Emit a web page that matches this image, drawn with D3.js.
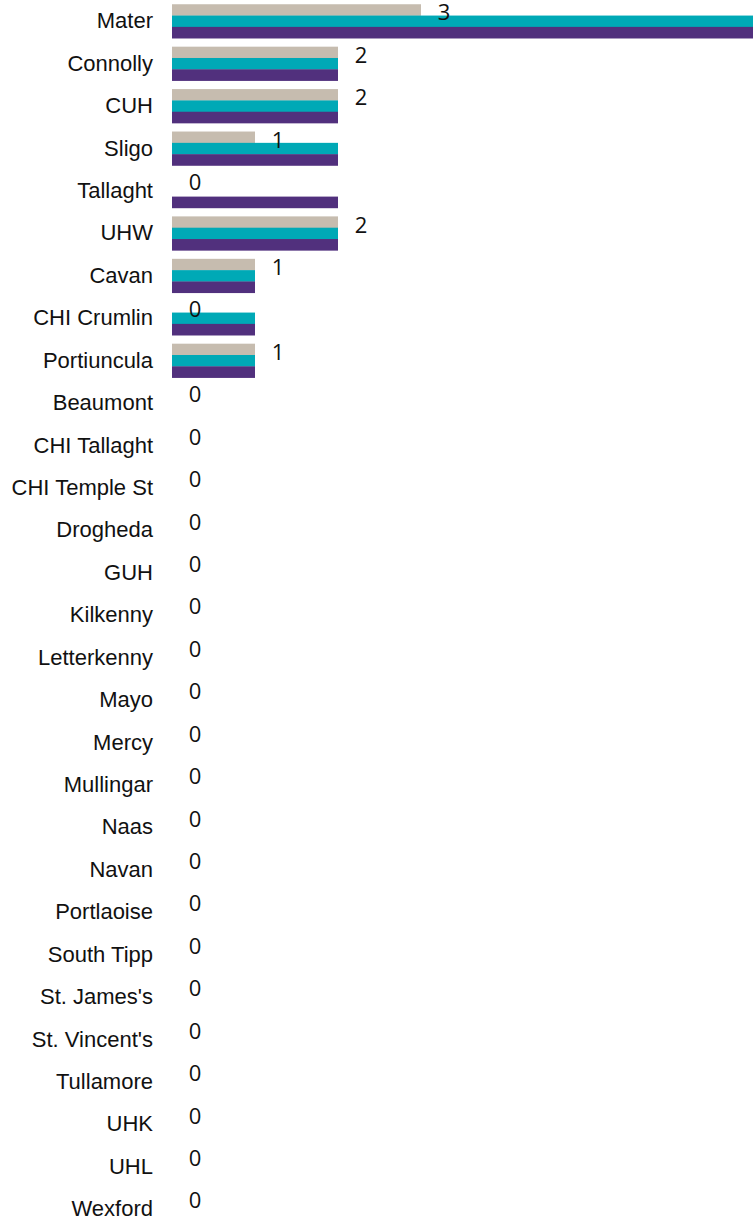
<!DOCTYPE html>
<html>
<head>
<meta charset="utf-8">
<script src="https://cdn.jsdelivr.net/npm/d3@7"></script>
<style>
	html, body { margin: 0; padding: 0; background: #FFF; }
	svg { display: block; }
</style>
</head>
<body>
<div id="chart"></div>
<script>

const hospitals = ["Mater", "Connolly", "CUH", "Sligo", "Tallaght", "UHW", "Cavan", "CHI Crumlin",
	"Portiuncula", "Beaumont", "CHI Tallaght", "CHI Temple St", "Drogheda", "GUH", "Kilkenny",
	"Letterkenny", "Mayo", "Mercy", "Mullingar", "Naas", "Navan", "Portlaoise", "South Tipp",
	"St. James's", "St. Vincent's", "Tullamore", "UHK", "UHL", "Wexford"];

// three series, same order as the hospitals
const seriesA = [3, 2, 2, 1, 0, 2, 1, 0, 1, 0, 0, 0, 0, 0, 0, 0, 0, 0, 0, 0, 0, 0, 0, 0, 0, 0, 0, 0, 0];
const seriesB = [7, 2, 2, 2, 0, 2, 1, 1, 1, 0, 0, 0, 0, 0, 0, 0, 0, 0, 0, 0, 0, 0, 0, 0, 0, 0, 0, 0, 0];
const seriesC = [7, 2, 2, 2, 2, 2, 1, 1, 1, 0, 0, 0, 0, 0, 0, 0, 0, 0, 0, 0, 0, 0, 0, 0, 0, 0, 0, 0, 0];

const seriesColors = ["#C6BCAF", "#00A9B6", "#51307D"];

const frame = {
	width : 753,
	height : 1220,
	left : 172
};

const series = [seriesA, seriesB, seriesC];

const svg = d3.select("#chart")
	.append("svg")
	.attr("width", frame.width)
	.attr("height", frame.height)
	.style("background", "#FFF");

const x = d3.scaleLinear()
	.domain([0, 7])
	.range([frame.left, frame.width]);

const y = d3.scaleBand()
	.domain(hospitals)
	.range([0, hospitals.length * 42.43])
	.paddingInner(0.2)
	.paddingOuter(0.1);

const sub = d3.scaleBand()
	.domain(d3.range(series.length))
	.range([0, y.bandwidth()]);

const rows = svg.selectAll("g.row")
	.data(hospitals)
	.enter()
	.append("g")
	.attr("class", "row")
	.attr("transform", d => `translate(0,${y(d)})`);

rows.selectAll("rect")
	.data((d, i) => series.map((s, k) => ({k : k, v : s[i]})))
	.enter()
	.append("rect")
	.attr("x", x(0))
	.attr("y", d => sub(d.k))
	.attr("width", d => x(d.v) - x(0))
	.attr("height", sub.bandwidth() + 0.3)
	.attr("fill", d => seriesColors[d.k]);

// category names on the left
rows.append("text")
	.attr("x", 153)
	.attr("y", y.bandwidth() / 2 - 0.7)
	.attr("dy", "0.35em")
	.attr("text-anchor", "end")
	.style("font-family", "'Liberation Sans', Arial, sans-serif")
	.style("font-size", "22px")
	.attr("fill", "#111")
	.text(d => d);

// value labels, from the first series
rows.append("text")
	.attr("x", (d, i) => x(seriesA[i]) + 23)
	.attr("y", 8.5)
	.attr("dy", "0.35em")
	.attr("text-anchor", "middle")
	.style("font-family", "'Open Sans', sans-serif")
	.style("font-size", "22px")
	.attr("fill", "#111")
	.text((d, i) => seriesA[i]);

</script>
</body>
</html>
